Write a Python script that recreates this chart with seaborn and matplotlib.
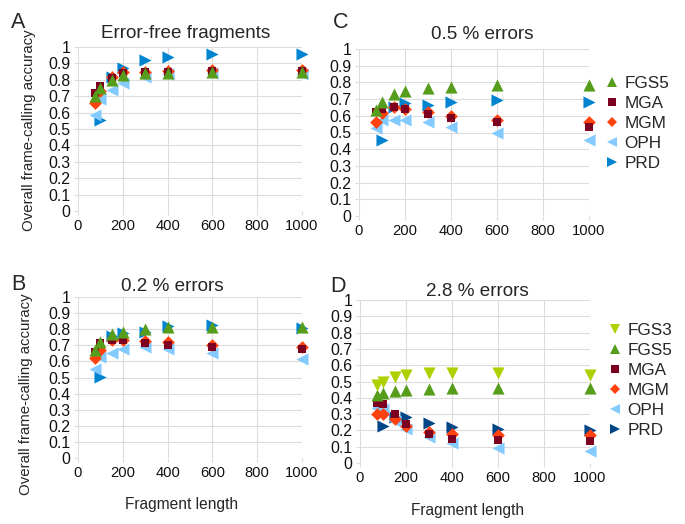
import numpy as np
import pandas as pd
import seaborn as sns
import matplotlib.pyplot as plt
from matplotlib.lines import Line2D

# fragment lengths (PRD has no 75 bp point)
lengths = [75, 100, 150, 200, 300, 400, 600, 1000]
prd_lengths = [100, 150, 200, 300, 400, 600, 1000]

# A: error-free fragments
a_fgs5 = [0.70, 0.75, 0.80, 0.83, 0.84, 0.84, 0.85, 0.85]
a_mga = [0.72, 0.76, 0.81, 0.84, 0.85, 0.85, 0.855, 0.855]
a_mgm = [0.66, 0.73, 0.815, 0.845, 0.85, 0.855, 0.86, 0.86]
a_oph = [0.585, 0.68, 0.74, 0.78, 0.82, 0.835, 0.84, 0.835]
a_prd = [0.555, 0.82, 0.87, 0.92, 0.94, 0.96, 0.96]

# B: 0.2 % errors
b_fgs5 = [0.67, 0.72, 0.77, 0.785, 0.80, 0.815, 0.815, 0.815]
b_mga = [0.66, 0.715, 0.73, 0.73, 0.715, 0.70, 0.69, 0.675]
b_mgm = [0.62, 0.67, 0.73, 0.735, 0.725, 0.72, 0.70, 0.69]
b_oph = [0.555, 0.63, 0.655, 0.68, 0.69, 0.68, 0.65, 0.615]
b_prd = [0.505, 0.76, 0.775, 0.785, 0.82, 0.825, 0.805]

# C: 0.5 % errors
c_fgs5 = [0.635, 0.68, 0.73, 0.75, 0.765, 0.775, 0.785, 0.785]
c_mga = [0.62, 0.64, 0.655, 0.64, 0.61, 0.585, 0.56, 0.535]
c_mgm = [0.565, 0.615, 0.65, 0.64, 0.625, 0.60, 0.575, 0.565]
c_oph = [0.525, 0.575, 0.575, 0.575, 0.565, 0.535, 0.50, 0.455]
c_prd = [0.455, 0.65, 0.675, 0.665, 0.685, 0.695, 0.68]

# D: 2.8 % errors
d_fgs3 = [0.48, 0.50, 0.53, 0.54, 0.55, 0.55, 0.55, 0.54]
d_fgs5 = [0.42, 0.43, 0.44, 0.45, 0.455, 0.46, 0.46, 0.46]
d_mga = [0.37, 0.36, 0.30, 0.24, 0.18, 0.15, 0.14, 0.135]
d_mgm = [0.30, 0.30, 0.27, 0.23, 0.19, 0.175, 0.17, 0.17]
d_oph = [0.34, 0.33, 0.26, 0.21, 0.16, 0.125, 0.09, 0.075]
d_prd = [0.23, 0.28, 0.28, 0.245, 0.22, 0.21, 0.205]

x_ticks = [0, 200, 400, 600, 800, 1000]
y_ticks = [0, 0.1, 0.2, 0.3, 0.4, 0.5, 0.6, 0.7, 0.8, 0.9, 1]
y_tick_labels = ["0", "0.1", "0.2", "0.3", "0.4", "0.5", "0.6", "0.7", "0.8", "0.9", "1"]


def make_df(series):
    rows = []
    for tool, vals in series.items():
        xs = prd_lengths if tool == "PRD" else lengths
        for x, v in zip(xs, vals):
            rows.append({"length": x, "accuracy": v, "tool": tool})
    return pd.DataFrame(rows)


df_a = make_df({"FGS5": a_fgs5, "MGA": a_mga, "MGM": a_mgm, "OPH": a_oph, "PRD": a_prd})
df_b = make_df({"FGS5": b_fgs5, "MGA": b_mga, "MGM": b_mgm, "OPH": b_oph, "PRD": b_prd})
df_c = make_df({"FGS5": c_fgs5, "MGA": c_mga, "MGM": c_mgm, "OPH": c_oph, "PRD": c_prd})
df_d = make_df({"FGS3": d_fgs3, "FGS5": d_fgs5, "MGA": d_mga, "MGM": d_mgm,
                "OPH": d_oph, "PRD": d_prd})

sns.set_theme(style="white")
plt.rcParams["font.family"] = ["Liberation Sans", "DejaVu Sans"]

markers = {"FGS3": "v", "FGS5": "^", "MGA": "s", "MGM": "D", "OPH": "<", "PRD": ">"}
sizes = {"FGS3": 76, "FGS5": 76, "MGA": 38, "MGM": 42, "OPH": 76, "PRD": 76}
colors = {"FGS3": "#aecf00", "FGS5": "#579d1c", "MGA": "#7e0021", "MGM": "#ff420e",
          "OPH": "#83caff", "PRD": "#0084d1"}
grid_col = "#dcdcdc"

W, H = 685, 524
fig = plt.figure(figsize=(W / 100, H / 100), dpi=100)


def px_axes(l, r, t, b):
    return fig.add_axes([l / W, 1 - b / H, (r - l) / W, (b - t) / H])


def draw(ax, df, cols):
    # later series end up underneath, as in the original
    for tool in ["PRD", "OPH", "MGM", "MGA", "FGS5", "FGS3"]:
        sub = df[df["tool"] == tool]
        if sub.empty:
            continue
        sns.scatterplot(data=sub, x="length", y="accuracy", marker=markers[tool],
                        color=cols[tool], s=sizes[tool], linewidth=0,
                        clip_on=False, legend=False, ax=ax, zorder=3)
    ax.set_xlim(0, 1000)
    ax.set_ylim(0, 1)
    ax.set_xticks(x_ticks)
    ax.set_yticks(y_ticks)
    ax.set_yticklabels(y_tick_labels)
    ax.set_xlabel("")
    ax.set_ylabel("")
    for s in ax.spines.values():
        s.set_visible(False)
    ax.grid(True, color=grid_col, linewidth=0.8)
    ax.set_axisbelow(True)
    ax.tick_params(axis="both", which="both", length=3, width=0.8, color=grid_col,
                   labelcolor="#111111", pad=2.5, left=True, bottom=True)
    ax.tick_params(axis="x", labelsize=10.6)
    ax.tick_params(axis="y", labelsize=11.4)


def legend(ax, tools, cols, x, y):
    handles = [Line2D([], [], linestyle="none", marker=markers[t], color=cols[t],
                      markersize=6.8 if t not in ("MGA", "MGM") else 5.4,
                      markeredgewidth=0) for t in tools]
    ax.legend(handles, tools, loc="upper left", bbox_to_anchor=(x / W, 1 - y / H),
              bbox_transform=fig.transFigure, frameon=False, fontsize=12.3,
              handlelength=1.0, handletextpad=0.25, labelspacing=0.29, borderpad=0,
              borderaxespad=0)


ax_a = px_axes(78, 302, 47, 211)
ax_c = px_axes(359, 589, 49, 216)
ax_b = px_axes(78, 302, 297, 458)
ax_d = px_axes(360, 590, 300, 463)

draw(ax_a, df_a, colors)
draw(ax_b, df_b, colors)
draw(ax_c, df_c, colors)
colors_d = dict(colors, PRD="#004586")
draw(ax_d, df_d, colors_d)

legend(ax_c, ["FGS5", "MGA", "MGM", "OPH", "PRD"], colors, 603, 76)
legend(ax_d, ["FGS3", "FGS5", "MGA", "MGM", "OPH", "PRD"], colors_d, 606, 323)


def ftext(x, y, s, **kw):
    fig.text(x / W, 1 - y / H, s, **kw)


# titles
ftext(186, 38, "Error-free fragments", fontsize=13.6, ha="center", va="baseline")
ftext(482, 39, "0.5 % errors", fontsize=13.6, ha="center", va="baseline")
ftext(172, 291, "0.2 % errors", fontsize=13.6, ha="center", va="baseline")
ftext(477, 296, "2.8 % errors", fontsize=13.6, ha="center", va="baseline")

# panel letters
ftext(18, 22, "A", fontsize=15.5, ha="center", va="center")
ftext(341, 23, "C", fontsize=15.5, ha="center", va="center")
ftext(18, 285, "B", fontsize=15.5, ha="center", va="center")
ftext(338, 287, "D", fontsize=15.5, ha="center", va="center")

# axis labels
ftext(29, 130, "Overall frame-calling accuracy", fontsize=10.8, rotation=90,
      ha="center", va="center")
ftext(26, 394, "Overall frame-calling accuracy", fontsize=10.8, rotation=90,
      ha="center", va="center")
ftext(182, 505, "Fragment length", fontsize=11.2, ha="center", va="center")
ftext(468, 510, "Fragment length", fontsize=11.2, ha="center", va="center")

fig.savefig("out.png", dpi=100)
